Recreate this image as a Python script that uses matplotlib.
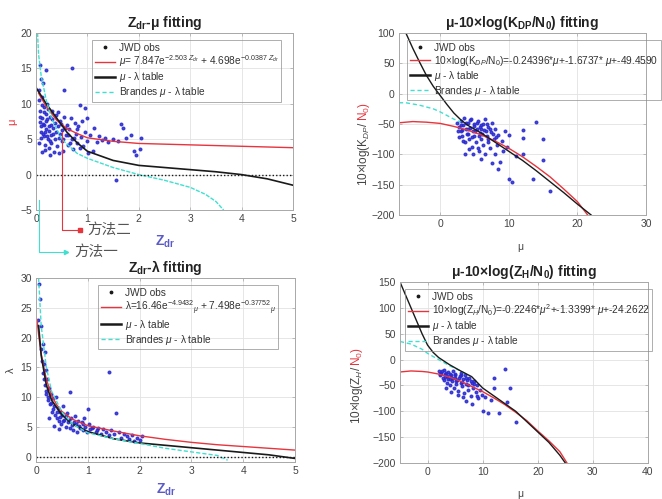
import matplotlib
matplotlib.use("Agg")
import matplotlib.pyplot as plt
from matplotlib.lines import Line2D

plt.rcParams['font.family'] = ['Liberation Sans', 'Noto Sans CJK SC', 'DejaVu Sans']
plt.rcParams['mathtext.fontset'] = 'custom'
plt.rcParams['mathtext.rm'] = 'Liberation Sans'
plt.rcParams['mathtext.it'] = 'Liberation Sans:italic'
plt.rcParams['mathtext.bf'] = 'Liberation Sans:bold'

# ---------------- Zdr - mu ----------------
zdrMuCurveX = [0.05, 0.2, 0.4, 0.6, 0.8, 1.0, 1.5, 2.0, 3.0, 4.0, 5.0]
zdrMuFit = [11.5, 9.6, 7.7, 6.5, 5.8, 5.2, 4.7, 4.4, 4.2, 4.0, 3.8]
zdrMuTableX = [0.0, 0.2, 0.4, 0.6, 0.8, 1.0, 1.5, 2.0, 2.5, 3.0, 3.5, 4.0, 4.5, 5.0]
zdrMuTable = [12.3, 10.0, 8.0, 6.0, 4.5, 3.3, 2.0, 1.3, 1.0, 0.7, 0.4, 0.0, -0.6, -1.5]
zdrMuBrandesX = [0.03, 0.05, 0.1, 0.2, 0.3, 0.5, 0.8, 1.0, 1.5, 2.0, 2.5, 3.0, 3.3, 3.5, 3.65]
zdrMuBrandes = [20, 17, 14, 10.5, 8, 5, 3, 2.3, 1, 0, -0.8, -1.8, -2.8, -3.8, -5]
zdrMuObsX = [0.05, 0.06, 0.08, 0.08, 0.1, 0.1, 0.12, 0.12, 0.14, 0.15, 0.15, 0.16, 0.18, 0.18,
             0.2, 0.2, 0.22, 0.22, 0.24, 0.25, 0.26, 0.28, 0.3, 0.3, 0.32, 0.33, 0.35, 0.36, 0.38,
             0.4, 0.42, 0.44, 0.45, 0.47, 0.5, 0.5, 0.52, 0.55, 0.58, 0.6, 0.62, 0.65, 0.68, 0.7,
             0.72, 0.75, 0.78, 0.8, 0.82, 0.85, 0.88, 0.9, 0.92, 0.95, 1.0, 1.02, 1.05, 1.1, 1.12,
             1.18, 1.22, 1.28, 1.35, 1.4, 1.5, 1.6, 1.65, 1.7, 1.75, 1.85, 1.9, 1.95, 2.02, 2.05,
             0.08, 0.2, 0.7, 0.55, 0.1, 0.85, 0.95, 1.0, 1.55, 0.06, 0.12, 0.28,
             0.07, 0.09, 0.11, 0.13, 0.14, 0.16, 0.17, 0.19, 0.21, 0.23, 0.25, 0.27, 0.29, 0.31,
             0.34, 0.37, 0.39, 0.43, 0.46, 0.49, 0.53, 0.57, 0.63, 0.67, 0.74, 0.79]
zdrMuObsY = [12, 10.5, 9, 7.5, 6, 5.2, 8, 11, 13, 9.5, 7, 5.5, 4.2, 3.5,
             8.5, 6.5, 10, 7.8, 5, 3.8, 6.2, 8.2, 7, 4.5, 9, 5.8, 3.2, 7.3, 6.0,
             4.0, 8.8, 5.2, 3.0, 7.6, 6.3, 4.8, 3.3, 8.2, 5.6, 7.0, 4.2, 6.4, 8.0, 5.0,
             3.6, 7.3, 5.8, 4.5, 6.8, 3.8, 5.3, 7.6, 4.0, 6.0, 4.8, 3.0, 5.6, 3.3, 6.6,
             4.6, 5.4, 4.9, 5.2, 4.6, 5.0, 4.8, 7.2, 6.6, 5.2, 5.6, 3.4, 2.8, 3.6, 5.2,
             15.5, 14.8, 15.0, 12.0, 13.5, 9.8, 9.4, 8.0, -0.8, 4.5, 3.2, 2.8,
             8.2, 6.8, 9.8, 7.2, 5.8, 8.8, 6.0, 7.6, 5.4, 9.2, 6.8, 4.8, 5.6, 7.8,
             6.6, 5.0, 8.4, 6.8, 5.8, 7.2, 5.0, 6.6, 5.6, 4.4, 5.2, 6.4]

# ---------------- mu - KDP ----------------
kdpTableX = [-5, -4, -3, -2, -1, 0, 1, 2, 3, 4, 6, 8, 10, 12, 14, 16, 18, 20, 22]
kdpTable = [100, 75, 52, 30, 12, -3, -18, -32, -43, -52, -65, -80, -95, -110, -127, -145, -163, -182, -200]
kdpFitX = [-6, -4, -2, 0, 2, 4, 6, 8, 10, 12, 14, 16, 18, 20, 21.5]
kdpFit = [-48, -46, -47, -49, -54, -60, -68, -78, -90, -104, -120, -137, -157, -178, -200]
kdpBrandesX = [-6, -5, -3, -1, 0, 1, 2, 3]
kdpBrandes = [-15, -15, -19, -25, -30, -36, -42, -47]
kdpObsX = [2.5, 2.8, 3, 3, 3.2, 3.4, 3.5, 3.6, 3.8, 4, 4, 4.2, 4.4, 4.5, 4.6, 4.8, 5, 5, 5.2, 5.3,
           5.5, 5.6, 5.8, 6, 6, 6.2, 6.4, 6.5, 6.6, 6.8, 7, 7, 7.2, 7.4, 7.6, 7.8, 8, 8, 8.3, 8.5,
           8.7, 9, 9.2, 9.5, 9.8, 10, 3.6, 4.8, 5.5, 6, 7.5, 8.5, 10, 10.5, 11, 12, 12, 12, 13.5,
           14, 15, 15, 16, 2.8, 4.2, 3.2, 5.8, 6.8,
           2.6, 3.1, 3.3, 3.7, 3.9, 4.1, 4.3, 4.7, 4.9, 5.1, 5.4, 5.7, 5.9, 6.1, 6.3, 6.7, 6.9, 7.3, 7.7, 8.1]
kdpObsY = [-48, -55, -45, -62, -70, -52, -40, -80, -58, -48, -66, -75, -56, -42, -88, -62, -50, -70, -80, -58,
           -45, -95, -65, -52, -75, -85, -60, -42, -100, -70, -55, -80, -90, -63, -48, -75, -58, -100, -85, -68,
           -112, -78, -95, -62, -88, -68, -100, -100, -90, -108, -115, -125, -140, -145, -102, -100, -60, -73, -140,
           -47, -75, -110, -160, -72, -92, -60, -55, -50,
           -62, -52, -78, -48, -66, -58, -44, -72, -54, -62, -48, -70, -58, -66, -50, -62, -74, -58, -66, -72]

# ---------------- Zdr - lambda ----------------
lamFitX = [0.02, 0.05, 0.1, 0.15, 0.2, 0.3, 0.4, 0.5, 0.7, 1.0, 1.5, 2.0, 2.5, 3.0, 3.5, 4.0, 4.5, 5.0]
lamFit = [23, 20.5, 17.3, 15, 13, 10.3, 8.7, 7.6, 6.3, 5.2, 4.3, 3.5, 2.9, 2.4, 2.0, 1.7, 1.4, 1.1]
lamTableX = [0.05, 0.1, 0.2, 0.3, 0.5, 0.7, 1.0, 1.5, 2.0, 2.5, 3.0, 3.5, 4.0, 4.5, 5.0]
lamTable = [22, 17, 12, 9.5, 7, 5.5, 4.2, 3.0, 2.3, 1.9, 1.5, 1.1, 0.7, 0.3, -0.3]
lamBrandesX = [0.05, 0.1, 0.2, 0.3, 0.5, 0.7, 1.0, 1.5, 2.0, 2.5, 3.0, 3.5, 3.7]
lamBrandes = [30, 22, 15, 11, 7.5, 5.5, 4.0, 3.0, 2.2, 1.4, 0.8, 0.2, -0.6]
lamObsX = [0.03, 0.05, 0.08, 0.1, 0.1, 0.12, 0.14, 0.15, 0.15, 0.17, 0.18, 0.2, 0.2, 0.22, 0.24, 0.25,
           0.27, 0.28, 0.3, 0.32, 0.34, 0.36, 0.38, 0.4, 0.42, 0.44, 0.46, 0.48, 0.5, 0.52, 0.55, 0.57,
           0.6, 0.62, 0.65, 0.65, 0.68, 0.7, 0.72, 0.75, 0.78, 0.8, 0.82, 0.85, 0.88, 0.9, 0.93, 0.95,
           0.98, 1.0, 1.02, 1.05, 1.1, 1.15, 1.2, 1.25, 1.3, 1.35, 1.4, 1.4, 1.45, 1.5, 1.55, 1.6, 1.65,
           1.7, 1.75, 1.8, 1.85, 1.9, 1.95, 2.0, 2.05, 0.35, 0.45, 0.25,
           0.13, 0.19, 0.23, 0.29, 0.33, 0.41, 0.47, 0.53, 0.58, 0.63, 0.73, 0.83, 0.91, 1.08, 1.18]
lamObsY = [23, 29, 26.5, 22, 18, 16, 19, 13, 15.5, 17.5, 12, 14.5, 10.5, 13, 9.5, 11.5,
           8.8, 10.5, 7.5, 9.8, 8.5, 7, 10, 6.5, 8.2, 6, 7.5, 5.5, 7, 8.5, 6.2, 5,
           7.3, 5.8, 4.8, 10.8, 6.5, 5.3, 4.5, 6.8, 5.5, 4.2, 6, 4.8, 5.8, 4.4, 6.5, 5,
           4.2, 8, 5.5, 4.6, 5, 4.2, 4.8, 3.8, 4.6, 4.2, 14.2, 3.6, 4.4, 3.8, 7.3, 4.2, 3.2,
           3.8, 3.4, 3.0, 3.6, 2.6, 3.2, 2.8, 3.4, 5.2, 4.6, 6.5,
           14, 11, 10, 9, 8, 7.5, 6.6, 6.0, 6.8, 6.2, 5.8, 5.2, 5.4, 4.8, 4.4]

# ---------------- mu - ZH ----------------
zhTableX = [-5, -4, -3, -2, -1, 0, 1, 2, 4, 6, 8, 10, 12, 14, 16, 18, 20, 22, 24, 25]
zhTable = [150, 125, 100, 75, 50, 28, 14, 4, -10, -22, -33, -55, -70, -85, -100, -120, -140, -160, -185, -200]
zhFitX = [-5, -3, -1, 0, 2, 4, 6, 8, 10, 12, 14, 16, 18, 20, 22, 24, 25.3]
zhFit = [-24, -22, -23, -24, -28, -34, -42, -52, -62, -74, -87, -102, -118, -138, -157, -178, -200]
zhBrandesX = [-5, -3, -1, 0, 2, 4, 6, 7]
zhBrandes = [35, 30, 20, 12, 0, -12, -22, -28]
zhObsX = [2, 2.3, 2.5, 2.8, 3, 3, 3.2, 3.5, 3.6, 3.8, 4, 4, 4.3, 4.5, 4.6, 4.8, 5, 5, 5.2, 5.4,
          5.6, 5.8, 6, 6, 6.2, 6.5, 6.6, 6.8, 7, 7.2, 7.4, 7.6, 7.8, 8, 8.2, 8.5, 8.7, 9, 9.2, 9.5,
          9.8, 10, 11, 13, 12, 12, 14, 15, 14.5, 16, 8, 9, 10.5, 11.5, 3.4, 5.5, 6.4, 7, 4.2,
          2.2, 2.6, 3.1, 3.3, 3.7, 4.1, 4.4, 4.9, 5.1, 5.7, 6.1, 6.3, 6.9, 7.3, 7.9, 8.4]
zhObsY = [-22, -30, -25, -35, -20, -40, -28, -45, -32, -24, -38, -50, -30, -42, -22, -55, -35, -28, -48, -40,
          -60, -32, -45, -25, -52, -38, -65, -30, -48, -40, -58, -35, -70, -45, -55, -42, -62, -50, -75, -58,
          -68, -100, -103, -103, -35, -55, -18, -55, -82, -120, -85, -70, -72, -78, -55, -68, -72, -80, -62,
          -28, -22, -33, -26, -38, -27, -35, -30, -42, -36, -30, -44, -36, -50, -42, -48]

RED = '#e8343c'
CYAN = '#3fe0d0'
BLACK = '#1a1a1a'
OBS = '#2a2ad0'
GRAY = '#444444'

W, H = 662, 499
fig = plt.figure(figsize=(W / 100, H / 100), dpi=100)


def px(x, y):
    return x / W, 1 - y / H


def makeAx(l, t, r, b):
    ax = fig.add_axes([l / W, 1 - b / H, (r - l) / W, (b - t) / H])
    ax.grid(True, color='#e2e2e2', linewidth=0.6)
    ax.set_axisbelow(True)
    for s in ax.spines.values():
        s.set_color('#a8a8a8')
        s.set_linewidth(0.7)
    ax.tick_params(direction='in', length=2, width=0.5, colors='#a8a8a8', labelcolor=GRAY,
                   labelsize=7.5, pad=3, top=True, right=True)
    return ax


def addLegend(ax, labels, x0, y0, fs=7.3):
    handles = [
        Line2D([], [], linestyle='none', marker='.', color=BLACK, markersize=3.5),
        Line2D([], [], color=RED, linewidth=1.0),
        Line2D([], [], color=BLACK, linewidth=1.8),
        Line2D([], [], color=CYAN, linewidth=1.0, linestyle=(0, (3, 2))),
    ]
    x, y = px(x0, y0)
    leg = ax.legend(handles, labels, loc='upper left', bbox_to_anchor=(x, y),
                    bbox_transform=fig.transFigure, fontsize=fs, frameon=True, fancybox=False,
                    edgecolor='#8a8a8a', facecolor='none', borderpad=0.25, labelspacing=0.1,
                    handlelength=2.0, handletextpad=0.4, borderaxespad=0)
    leg.get_frame().set_linewidth(0.6)
    for t in leg.get_texts():
        t.set_color('#333333')
    return leg


# ---- top-left ----
ax1 = makeAx(36, 33, 293, 210)
ax1.plot(zdrMuObsX, zdrMuObsY, '.', color=OBS, markersize=3.8, alpha=0.85)
ax1.plot(zdrMuCurveX, zdrMuFit, color=RED, linewidth=1.0)
ax1.plot(zdrMuTableX, zdrMuTable, color=BLACK, linewidth=1.2)
ax1.plot(zdrMuBrandesX, zdrMuBrandes, color=CYAN, linewidth=1.0, linestyle=(0, (3, 1)))
ax1.axhline(0, color=BLACK, linestyle=(0, (1, 1.5)), linewidth=1.0)
ax1.set_xlim(0, 5)
ax1.set_ylim(-5, 20)
ax1.set_xticks([0, 1, 2, 3, 4, 5])
ax1.set_yticks([-5, 0, 5, 10, 15, 20])
ax1.set_title(r"$\mathbf{Z_{dr}}$-μ fitting", fontsize=10, fontweight='bold', color='#222222', pad=4)
addLegend(ax1, ["JWD obs",
                r"$\mu$= 7.847e$^{-2.503\ Z_{dr}}$ + 4.698e$^{-0.0387\ Z_{dr}}$",
                r"$\mu$ - λ table",
                r"Brandes $\mu$ - λ table"], 92, 40)
fig.text(*px(12, 122), "μ", color=RED, fontsize=8, rotation=90, ha='center', va='center')
fig.text(*px(165, 242), r"$\mathbf{Z_{dr}}$", color='#5a5ac8', fontsize=10, ha='center', va='center')

# annotation arrows (method labels)
xs, ys = zip(px(62, 132), px(62, 230), px(79, 230))
fig.add_artist(Line2D(xs, ys, color=RED, linewidth=0.8))
fig.add_artist(Line2D([px(80, 230)[0]], [px(80, 230)[1]], marker='s', color=RED, markersize=2.5))
fig.text(*px(87, 230), "方法二", fontsize=10.5, color='#555555', ha='left', va='center')
xs, ys = zip(px(39, 200), px(39, 252), px(66, 252))
fig.add_artist(Line2D(xs, ys, color=CYAN, linewidth=0.8))
fig.add_artist(Line2D([px(66, 252)[0]], [px(66, 252)[1]], marker='>', color=CYAN, markersize=3))
fig.text(*px(74, 252), "方法一", fontsize=10.5, color='#555555', ha='left', va='center')

# ---- top-right ----
ax2 = makeAx(399, 33, 646, 215)
ax2.plot(kdpObsX, kdpObsY, '.', color=OBS, markersize=3.8, alpha=0.85)
ax2.plot(kdpBrandesX, kdpBrandes, color=CYAN, linewidth=1.0, linestyle=(0, (3, 2)))
ax2.plot(kdpFitX, kdpFit, color=RED, linewidth=1.0)
ax2.plot(kdpTableX, kdpTable, color=BLACK, linewidth=1.0)
ax2.set_xlim(-6, 30)
ax2.set_ylim(-200, 100)
ax2.set_xticks([0, 10, 20, 30])
ax2.set_yticks([-200, -150, -100, -50, 0, 50, 100])
ax2.set_title(r"μ-10×log($\mathbf{K_{DP}}$/$\mathbf{N_0}$) fitting", fontsize=10,
              fontweight='bold', color='#222222', pad=4)
addLegend(ax2, ["JWD obs",
                r"10×log(K$_{DP}$/N$_0$)=-0.24396*$\mu$+-1.6737* $\mu$+-49.4590",
                r"$\mu$ - λ table",
                r"Brandes $\mu$ - λ table"], 407, 40)
fig.text(*px(520, 247), "μ", color=GRAY, fontsize=7.5, ha='center', va='center')

# ---- bottom-left ----
ax3 = makeAx(36, 278, 295, 462)
ax3.plot(lamObsX, lamObsY, '.', color=OBS, markersize=3.8, alpha=0.85)
ax3.plot(lamFitX, lamFit, color=RED, linewidth=1.0)
ax3.plot(lamTableX, lamTable, color=BLACK, linewidth=1.2)
ax3.plot(lamBrandesX, lamBrandes, color=CYAN, linewidth=1.0, linestyle=(0, (3, 1.5)))
ax3.axhline(0, color=BLACK, linestyle=(0, (1, 1.5)), linewidth=1.0)
ax3.set_xlim(0, 5)
ax3.set_ylim(-0.9, 30)
ax3.set_xticks([0, 1, 2, 3, 4, 5])
ax3.set_yticks([0, 5, 10, 15, 20, 25, 30])
ax3.set_title(r"$\mathbf{Z_{dr}}$-λ fitting", fontsize=10, fontweight='bold', color='#222222', pad=4)
addLegend(ax3, ["JWD obs",
                r"λ=16.46e$^{-4.9432}$$_{\mu}$ + 7.498e$^{-0.37752}$$_{\mu}$",
                r"$\mu$ - λ table",
                r"Brandes $\mu$ - λ table"], 98, 285)
fig.text(*px(11, 370), "λ", color=GRAY, fontsize=8, rotation=90, ha='center', va='center')
fig.text(*px(166, 490), r"$\mathbf{Z_{dr}}$", color='#5a5ac8', fontsize=10, ha='center', va='center')

# ---- bottom-right ----
ax4 = makeAx(400, 282, 648, 463)
ax4.plot(zhObsX, zhObsY, '.', color=OBS, markersize=3.8, alpha=0.85)
ax4.plot(zhBrandesX, zhBrandes, color=CYAN, linewidth=1.0, linestyle=(0, (3, 2)))
ax4.plot(zhFitX, zhFit, color=RED, linewidth=1.0)
ax4.plot(zhTableX, zhTable, color=BLACK, linewidth=1.0)
ax4.set_xlim(-5, 40)
ax4.set_ylim(-200, 150)
ax4.set_xticks([0, 10, 20, 30, 40])
ax4.set_yticks([-200, -150, -100, -50, 0, 50, 100, 150])
ax4.set_title(r"μ-10×log($\mathbf{Z_H}$/$\mathbf{N_0}$) fitting", fontsize=10,
              fontweight='bold', color='#222222', pad=4)
addLegend(ax4, ["JWD obs",
                r"10×log(Z$_H$/N$_0$)=-0.2246*$\mu^2$+-1.3399* $\mu$+-24.2622",
                r"$\mu$ - λ table",
                r"Brandes $\mu$ - λ table"], 405, 289)
fig.text(*px(520, 494), "μ", color=GRAY, fontsize=7.5, ha='center', va='center')

# two-colour y labels on the right panels
fig.canvas.draw()
renderer = fig.canvas.get_renderer()
for xPix, yBottom, blackPart in [(364, 186, r"10×log(K$_{DP}$/"), (357, 424, r"10×log(Z$_H$/")]:
    t = fig.text(*px(xPix, yBottom), blackPart, color=GRAY, fontsize=8.5, rotation=90,
                 ha='center', va='bottom')
    ext = t.get_window_extent(renderer)
    fig.text(*px(xPix, yBottom - ext.height), r"N$_0$)", color=RED, fontsize=8.5, rotation=90,
             ha='center', va='bottom')

fig.savefig("out.png", dpi=100)
plt.close(fig)
